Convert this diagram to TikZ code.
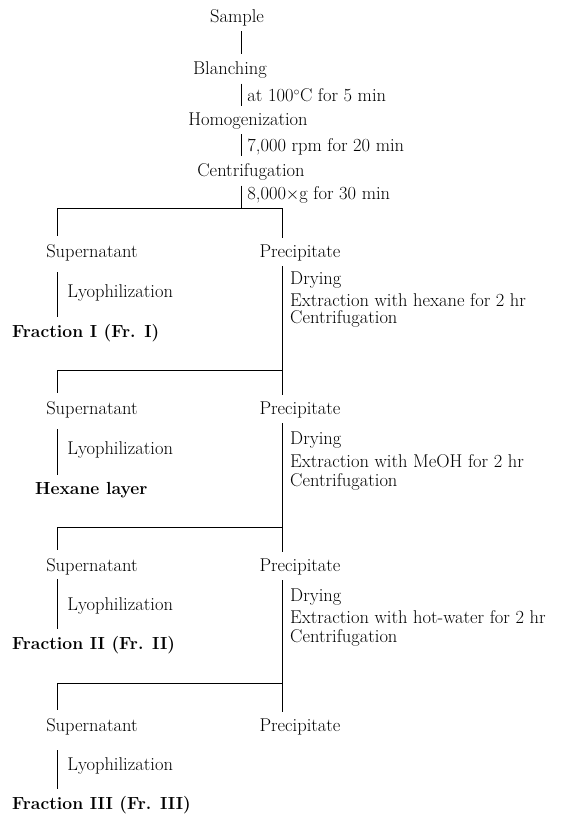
\documentclass[tikz,border=0pt]{standalone}
\usepackage{amsmath}
\usepackage{tikz}
\usetikzlibrary{positioning}

\begin{document}
\begin{tikzpicture}[x=1pt,y=-1pt,
	every node/.style={font=\fontsize{18.5}{21}\selectfont, inner sep=2pt},
	stage/.style={anchor=center},
	note/.style={anchor=west},
	side/.style={right, xshift=4pt},
	prod/.style={anchor=west, font=\fontsize{17.5}{21}\selectfont\bfseries},
	link/.style={line width=0.8pt, shorten <=3pt, shorten >=5pt},
	bar/.style={line width=0.8pt}]

	\useasboundingbox (0,0) rectangle (560,814);

	% main stream
	\coordinate (trunk) at (241,0);
	\node[stage] (sample) at (237,18) {Sample};
	\node[stage] (blanch) at (230,70) {Blanching};
	\node[stage] (homog) at (248,121) {Homogenization};
	\node[stage] (cent) at (251,172) {Centrifugation};

	\coordinate (lA) at (57,208);
	\coordinate (rA) at (282,208);
	\coordinate (lB) at (57,370);
	\coordinate (rB) at (282,370);
	\coordinate (lC) at (57,527);
	\coordinate (rC) at (282,527);
	\coordinate (lD) at (57,683);
	\coordinate (rD) at (282,683);

	\draw[link] (sample.south -| trunk) -- (blanch.north -| trunk);
	\draw[link] (blanch.south -| trunk) -- node[side] (heat) {at 100$^{\circ}$C for 5 min} (homog.north -| trunk);
	\draw[link] (homog.south -| trunk) -- node[side] (rpm) {7,000 rpm for 20 min} (cent.north -| trunk);
	\draw[bar, shorten <=3pt] (cent.south -| trunk) -- node[side] (gforce) {8,000$\times$g for 30 min} (trunk |- lA);

	% split points
	\draw[bar] (lA) -- (rA);
	\draw[bar] (lB) -- (rB);
	\draw[bar] (lC) -- (rC);
	\draw[bar] (lD) -- (rD);

	% supernatants and precipitates
	\node[stage] (supA) at (92,253) {Supernatant};
	\node[stage] (preA) at (300,253) {Precipitate};
	\node[stage] (supB) at (92,410) {Supernatant};
	\node[stage] (preB) at (300,410) {Precipitate};
	\node[stage] (supC) at (92,567) {Supernatant};
	\node[stage] (preC) at (300,567) {Precipitate};
	\node[stage] (supD) at (92,727) {Supernatant};
	\node[stage] (preD) at (300,727) {Precipitate};

	\draw[bar, shorten >=7pt] (lA) -- (supA.north -| lA);
	\draw[bar, shorten >=5pt] (rA) -- (preA.north -| rA);
	\draw[bar, shorten >=7pt] (lB) -- (supB.north -| lB);
	\draw[bar, shorten >=7pt] (lC) -- (supC.north -| lC);
	\draw[bar, shorten >=7pt] (lD) -- (supD.north -| lD);

	% fractions
	\node[prod] (fraA) at (10,333) {Fraction I (Fr. I)};
	\node[prod] (hexB) at (33,490) {Hexane layer};
	\node[prod] (fraC) at (10,645) {Fraction II (Fr. II)};
	\node[prod] (fraD) at (10,805) {Fraction III (Fr. III)};

	\draw[link, shorten <=9pt] (supA.south -| lA) -- node[side, xshift=4pt] (lyoA) {Lyophilization} (fraA.north -| lA);
	\draw[link, shorten <=9pt] (supB.south -| lB) -- node[side, xshift=4pt] (lyoB) {Lyophilization} (hexB.north -| lB);
	\draw[link, shorten <=2pt] (supC.south -| lC) -- node[side, xshift=4pt] (lyoC) {Lyophilization} (fraC.north -| lC);
	\draw[link, shorten <=13pt] (supD.south -| lD) -- node[side, xshift=4pt] (lyoD) {Lyophilization} (fraD.north -| lD);

	% precipitate treatments
	\draw[bar, shorten <=3pt, shorten >=5pt] (preA.south -| rA) -- (preB.north -| rA);
	\draw[bar, shorten <=3pt, shorten >=5pt] (preB.south -| rB) -- (preC.north -| rB);
	\draw[bar, shorten <=3pt, shorten >=5pt] (preC.south -| rC) -- (preD.north -| rC);

	\node[note] (dryA) at (288,280) {Drying};
	\node[note] (extA) at (288,300) {Extraction with hexane for 2 hr};
	\node[note] (cenA) at (288,319) {Centrifugation};
	\node[note] (dryB) at (288,440) {Drying};
	\node[note] (extB) at (288,461) {Extraction with MeOH for 2 hr};
	\node[note] (cenB) at (288,482) {Centrifugation};
	\node[note] (dryC) at (288,597) {Drying};
	\node[note] (extC) at (288,617) {Extraction with hot-water for 2 hr};
	\node[note] (cenC) at (288,638) {Centrifugation};
\end{tikzpicture}
\end{document}
